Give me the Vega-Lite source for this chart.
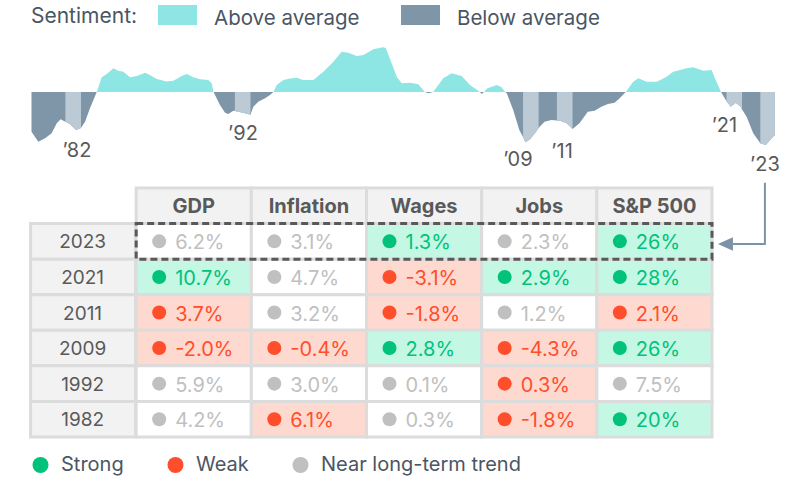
{
  "$schema": "https://vega.github.io/schema/vega-lite/v6.json",
  "width": 798,
  "height": 479,
  "autosize": {"type": "fit", "contains": "padding"},
  "padding": 0,
  "background": "white",
  "config": {
    "view": {"stroke": null},
    "font": "Inter",
    "text": {"font": "Inter"},
    "legend": {"labelFont": "Inter", "titleFont": "Inter"},
    "axis": {"disable": true}
  },
  "datasets": {
    "sentiment": [
      {"year": 1980.0, "value": -24.8},
      {"year": 1980.4, "value": -31.1},
      {"year": 1980.8, "value": -28.9},
      {"year": 1981.19, "value": -25.8},
      {"year": 1981.49, "value": -19.6},
      {"year": 1981.72, "value": -17.1},
      {"year": 1982.0, "value": -18.6, "band": "1982"},
      {"year": 1982.27, "value": -20.0, "band": "1982"},
      {"year": 1982.63, "value": -23.8, "band": "1982"},
      {"year": 1982.92, "value": -22.5, "band": "1982"},
      {"year": 1983.16, "value": -18.6},
      {"year": 1983.45, "value": -10.2},
      {"year": 1983.85, "value": 0},
      {"year": 1984.14, "value": 9.2},
      {"year": 1984.44, "value": 11.25},
      {"year": 1984.83, "value": 14.8},
      {"year": 1985.12, "value": 13.3},
      {"year": 1985.42, "value": 12.7},
      {"year": 1985.81, "value": 9.2},
      {"year": 1986.21, "value": 10.0},
      {"year": 1986.7, "value": 12.1},
      {"year": 1986.99, "value": 10.6},
      {"year": 1987.39, "value": 8.1},
      {"year": 1987.98, "value": 6.5},
      {"year": 1988.37, "value": 7.1},
      {"year": 1988.86, "value": 10.0},
      {"year": 1989.16, "value": 11.25},
      {"year": 1989.55, "value": 9.2},
      {"year": 1989.94, "value": 7.9},
      {"year": 1990.43, "value": 7.5},
      {"year": 1990.63, "value": 5.4},
      {"year": 1990.74, "value": 0},
      {"year": 1991.12, "value": -8.1},
      {"year": 1991.42, "value": -12.9},
      {"year": 1991.61, "value": -13.8},
      {"year": 1991.91, "value": -11.7},
      {"year": 1992.0, "value": -11.9, "band": "1992"},
      {"year": 1992.2, "value": -12.3, "band": "1992"},
      {"year": 1992.6, "value": -13.3, "band": "1992"},
      {"year": 1992.92, "value": -14.2, "band": "1992"},
      {"year": 1993.09, "value": -9.2},
      {"year": 1993.38, "value": -6.1},
      {"year": 1993.78, "value": -3.9},
      {"year": 1994.07, "value": -1.9},
      {"year": 1994.27, "value": 0},
      {"year": 1994.47, "value": 4.4},
      {"year": 1994.86, "value": 7.5},
      {"year": 1995.25, "value": 8.5},
      {"year": 1995.65, "value": 8.9},
      {"year": 1996.04, "value": 7.5},
      {"year": 1996.63, "value": 7.5},
      {"year": 1997.22, "value": 12.7},
      {"year": 1997.81, "value": 18.9},
      {"year": 1998.3, "value": 25.2},
      {"year": 1998.69, "value": 24.6},
      {"year": 1999.19, "value": 22.5},
      {"year": 1999.58, "value": 23.1},
      {"year": 2000.17, "value": 26.7},
      {"year": 2000.73, "value": 27.9},
      {"year": 2000.9, "value": 27.5},
      {"year": 2001.25, "value": 17.9},
      {"year": 2001.55, "value": 9.6},
      {"year": 2001.84, "value": 5.4},
      {"year": 2002.33, "value": 5.8},
      {"year": 2002.82, "value": 4.8},
      {"year": 2003.11, "value": 1.25},
      {"year": 2003.21, "value": 0},
      {"year": 2003.41, "value": -0.8},
      {"year": 2003.7, "value": 0},
      {"year": 2004.29, "value": 8.6},
      {"year": 2004.79, "value": 11.7},
      {"year": 2005.38, "value": 10.0},
      {"year": 2005.87, "value": 4.4},
      {"year": 2006.46, "value": 0},
      {"year": 2006.56, "value": -1.2},
      {"year": 2006.7, "value": 0},
      {"year": 2006.87, "value": 2.2},
      {"year": 2007.45, "value": 4.4},
      {"year": 2007.74, "value": 2.9},
      {"year": 2007.94, "value": 0},
      {"year": 2008.04, "value": -0.8},
      {"year": 2008.42, "value": -11.3},
      {"year": 2008.78, "value": -23.8},
      {"year": 2009.0, "value": -28.2, "band": "2009"},
      {"year": 2009.15, "value": -31.4, "band": "2009"},
      {"year": 2009.41, "value": -29.6, "band": "2009"},
      {"year": 2009.7, "value": -25.8, "band": "2009"},
      {"year": 2009.92, "value": -22.5, "band": "2009"},
      {"year": 2009.98, "value": -21.7},
      {"year": 2010.27, "value": -18.6},
      {"year": 2010.67, "value": -17.5},
      {"year": 2011.0, "value": -17.8, "band": "2011"},
      {"year": 2011.18, "value": -17.9, "band": "2011"},
      {"year": 2011.57, "value": -19.6, "band": "2011"},
      {"year": 2011.92, "value": -23.1, "band": "2011"},
      {"year": 2012.33, "value": -19.6},
      {"year": 2012.82, "value": -12.3},
      {"year": 2013.22, "value": -11.7},
      {"year": 2013.62, "value": -9.2},
      {"year": 2014.01, "value": -7.5},
      {"year": 2014.4, "value": -6.7},
      {"year": 2014.7, "value": -3.9},
      {"year": 2015.06, "value": 0},
      {"year": 2015.5, "value": 6.4},
      {"year": 2015.8, "value": 8.6},
      {"year": 2016.29, "value": 6.4},
      {"year": 2016.89, "value": 6.4},
      {"year": 2017.47, "value": 9.6},
      {"year": 2017.86, "value": 12.7},
      {"year": 2018.65, "value": 14.8},
      {"year": 2019.04, "value": 15.4},
      {"year": 2019.63, "value": 13.3},
      {"year": 2020.13, "value": 13.8},
      {"year": 2020.32, "value": 8.6},
      {"year": 2020.68, "value": 0},
      {"year": 2020.96, "value": -5.0},
      {"year": 2021.0, "value": -5.6, "band": "2021"},
      {"year": 2021.25, "value": -9.2, "band": "2021"},
      {"year": 2021.55, "value": -6.7, "band": "2021"},
      {"year": 2021.84, "value": -9.2, "band": "2021"},
      {"year": 2021.92, "value": -11.0, "band": "2021"},
      {"year": 2022.19, "value": -15.4},
      {"year": 2022.58, "value": -25.8},
      {"year": 2023.0, "value": -32.1, "band": "2023"},
      {"year": 2023.33, "value": -33.1, "band": "2023"},
      {"year": 2023.57, "value": -30.0, "band": "2023"},
      {"year": 2023.86, "value": -26.9, "band": "2023"}
    ],
    "yearLabels": [
      {"year": 1982.68, "value": -36.9, "label": "’82"},
      {"year": 1992.48, "value": -26.25, "label": "’92"},
      {"year": 2008.7, "value": -42.5, "label": "’09"},
      {"year": 2011.3, "value": -37.5, "label": "’11"},
      {"year": 2020.88, "value": -21.25, "label": "’21"},
      {"year": 2023.27, "value": -45.6, "label": "’23"}
    ],
    "arrow": [
      {"year": 2023.27, "value": -56.7, "step": 1},
      {"year": 2023.27, "value": -95, "step": 2},
      {"year": 2021.39, "value": -95, "step": 3}
    ],
    "arrowHead": [
      {"year": 2020.94, "value": -95}
    ],
    "metrics": [
      {"metric": "GDP"}, {"metric": "Inflation"}, {"metric": "Wages"}, {"metric": "Jobs"}, {"metric": "S&P 500"}
    ],
    "rows": [
      {"year": "2023"}, {"year": "2021"}, {"year": "2011"}, {"year": "2009"}, {"year": "1992"}, {"year": "1982"}
    ],
    "cells": [
      {"year": "2023", "metric": "GDP", "value": "6.2%", "status": "Near long-term trend"},
      {"year": "2023", "metric": "Inflation", "value": "3.1%", "status": "Near long-term trend"},
      {"year": "2023", "metric": "Wages", "value": "1.3%", "status": "Strong"},
      {"year": "2023", "metric": "Jobs", "value": "2.3%", "status": "Near long-term trend"},
      {"year": "2023", "metric": "S&P 500", "value": "26%", "status": "Strong"},
      {"year": "2021", "metric": "GDP", "value": "10.7%", "status": "Strong"},
      {"year": "2021", "metric": "Inflation", "value": "4.7%", "status": "Near long-term trend"},
      {"year": "2021", "metric": "Wages", "value": "-3.1%", "status": "Weak"},
      {"year": "2021", "metric": "Jobs", "value": "2.9%", "status": "Strong"},
      {"year": "2021", "metric": "S&P 500", "value": "28%", "status": "Strong"},
      {"year": "2011", "metric": "GDP", "value": "3.7%", "status": "Weak"},
      {"year": "2011", "metric": "Inflation", "value": "3.2%", "status": "Near long-term trend"},
      {"year": "2011", "metric": "Wages", "value": "-1.8%", "status": "Weak"},
      {"year": "2011", "metric": "Jobs", "value": "1.2%", "status": "Near long-term trend"},
      {"year": "2011", "metric": "S&P 500", "value": "2.1%", "status": "Weak"},
      {"year": "2009", "metric": "GDP", "value": "-2.0%", "status": "Weak"},
      {"year": "2009", "metric": "Inflation", "value": "-0.4%", "status": "Weak"},
      {"year": "2009", "metric": "Wages", "value": "2.8%", "status": "Strong"},
      {"year": "2009", "metric": "Jobs", "value": "-4.3%", "status": "Weak"},
      {"year": "2009", "metric": "S&P 500", "value": "26%", "status": "Strong"},
      {"year": "1992", "metric": "GDP", "value": "5.9%", "status": "Near long-term trend"},
      {"year": "1992", "metric": "Inflation", "value": "3.0%", "status": "Near long-term trend"},
      {"year": "1992", "metric": "Wages", "value": "0.1%", "status": "Near long-term trend"},
      {"year": "1992", "metric": "Jobs", "value": "0.3%", "status": "Weak"},
      {"year": "1992", "metric": "S&P 500", "value": "7.5%", "status": "Near long-term trend"},
      {"year": "1982", "metric": "GDP", "value": "4.2%", "status": "Near long-term trend"},
      {"year": "1982", "metric": "Inflation", "value": "6.1%", "status": "Weak"},
      {"year": "1982", "metric": "Wages", "value": "0.3%", "status": "Near long-term trend"},
      {"year": "1982", "metric": "Jobs", "value": "-1.8%", "status": "Weak"},
      {"year": "1982", "metric": "S&P 500", "value": "20%", "status": "Strong"}
    ]
  },
  "layer": [
    {
      "layer": [
        {
          "data": {"name": "sentiment"},
          "transform": [{"filter": "datum.value >= 0"}],
          "mark": {"type": "area", "opacity": 1},
          "encoding": {
            "x": {"field": "year", "type": "quantitative", "scale": {"domain": [1978.142, 2025.222], "nice": false, "zero": false}, "axis": null},
            "y": {"field": "value", "type": "quantitative", "scale": {"domain": [-241.875, 57.5], "nice": false, "zero": false}, "axis": null},
            "y2": {"datum": 0},
            "fill": {
              "datum": "Above average",
              "type": "nominal",
              "scale": {"domain": ["Above average", "Below average"], "range": ["#8ee6e4", "#7f96a9"]},
              "legend": {
                "orient": "none", "legendX": 31, "legendY": 5, "direction": "horizontal",
                "title": "Sentiment:", "titleOrient": "left", "titleFontSize": 21, "titleFontWeight": "normal",
                "titleColor": "#4a5663", "titlePadding": 20, "titleBaseline": "middle",
                "labelFontSize": 20.5, "labelColor": "#4a5663", "labelOffset": 17, "labelBaseline": "alphabetic",
                "labelLimit": 400,
                "symbolType": "M-1,-1H1V0.026H-1Z", "symbolSize": 1521, "symbolStrokeWidth": 0,
                "symbolOpacity": 1, "columnPadding": 41
              }
            }
          }
        },
        {
          "data": {"name": "sentiment"},
          "transform": [{"filter": "datum.value <= 0"}],
          "mark": {"type": "area", "opacity": 1},
          "encoding": {
            "x": {"field": "year", "type": "quantitative"},
            "y": {"field": "value", "type": "quantitative"},
            "y2": {"datum": 0},
            "fill": {"datum": "Below average", "type": "nominal"}
          }
        },
        {
          "data": {"name": "sentiment"},
          "transform": [{"filter": "isValid(datum.band)"}],
          "mark": {"type": "area", "fill": "#bccad5", "opacity": 1},
          "encoding": {
            "x": {"field": "year", "type": "quantitative"},
            "y": {"field": "value", "type": "quantitative"},
            "y2": {"datum": 0},
            "detail": {"field": "band", "type": "nominal"}
          }
        },
        {
          "data": {"name": "yearLabels"},
          "mark": {"type": "text", "fontSize": 20, "fill": "#595959", "align": "center", "baseline": "middle"},
          "encoding": {
            "x": {"field": "year", "type": "quantitative"},
            "y": {"field": "value", "type": "quantitative"},
            "text": {"field": "label"}
          }
        },
        {
          "data": {"name": "arrow"},
          "mark": {"type": "line", "stroke": "#7b92a7", "strokeWidth": 2},
          "encoding": {
            "x": {"field": "year", "type": "quantitative"},
            "y": {"field": "value", "type": "quantitative"},
            "order": {"field": "step"}
          }
        },
        {
          "data": {"name": "arrowHead"},
          "mark": {"type": "point", "shape": "M-1,0L1,-0.9L1,0.9Z", "size": 225, "filled": true, "fill": "#7b92a7", "strokeWidth": 0, "opacity": 1},
          "encoding": {
            "x": {"field": "year", "type": "quantitative"},
            "y": {"field": "value", "type": "quantitative"}
          }
        }
      ]
    },
    {
      "layer": [
        {
          "data": {"name": "metrics"},
          "mark": {"type": "rect", "fill": "#f2f2f2", "stroke": "#dcdcdc", "strokeWidth": 3},
          "encoding": {
            "x": {"field": "metric", "type": "nominal", "scale": {"type": "band", "domain": ["Year", "GDP", "Inflation", "Wages", "Jobs", "S&P 500"], "range": [21, 712], "paddingInner": 0, "paddingOuter": 0}, "axis": null},
            "y": {"datum": "Header", "type": "nominal", "scale": {"type": "band", "domain": ["Header", "2023", "2021", "2011", "2009", "1992", "1982"], "range": [188, 437], "paddingInner": 0, "paddingOuter": 0}, "axis": null}
          }
        },
        {
          "data": {"name": "rows"},
          "mark": {"type": "rect", "fill": "#f2f2f2", "stroke": "#dcdcdc", "strokeWidth": 3, "width": 105, "xOffset": 4.5},
          "encoding": {
            "x": {"datum": "Year", "type": "nominal"},
            "y": {"field": "year", "type": "nominal"}
          }
        },
        {
          "data": {"name": "cells"},
          "mark": {"type": "rect", "stroke": "#dcdcdc", "strokeWidth": 3},
          "encoding": {
            "x": {"field": "metric", "type": "nominal"},
            "y": {"field": "year", "type": "nominal"},
            "fill": {"field": "status", "type": "nominal", "scale": {"range": ["#ffffff", "#c4f8e4", "#fed9d0"]}, "legend": null}
          }
        },
        {
          "data": {"values": [{}]},
          "mark": {"type": "rect", "fill": null, "fillOpacity": 0, "stroke": "#595959", "strokeWidth": 3, "strokeDash": [7, 4]},
          "encoding": {
            "x": {"datum": "GDP", "type": "nominal", "bandPosition": 0},
            "x2": {"datum": "S&P 500", "bandPosition": 1},
            "y": {"datum": "2023", "type": "nominal", "bandPosition": 0},
            "y2": {"datum": "2023", "bandPosition": 1}
          }
        },
        {
          "data": {"name": "cells"},
          "mark": {"type": "point", "filled": true, "size": 196, "opacity": 1, "xOffset": 23},
          "encoding": {
            "x": {"field": "metric", "type": "nominal", "bandPosition": 0},
            "y": {"field": "year", "type": "nominal"},
            "color": {
              "field": "status", "type": "nominal",
              "scale": {"domain": ["Strong", "Weak", "Near long-term trend"], "range": ["#00c27a", "#ff4e2c", "#c0c0c0"]},
              "legend": {
                "orient": "none", "legendX": 30.5, "legendY": 455, "direction": "horizontal", "title": null,
                "labelFontSize": 20, "labelColor": "#4a5663", "labelOffset": 10.5, "labelLimit": 400,
                "symbolType": "circle", "symbolSize": 256, "symbolStrokeWidth": 0, "symbolOpacity": 1,
                "columnPadding": 41
              }
            }
          }
        },
        {
          "data": {"name": "cells"},
          "mark": {"type": "text", "fontSize": 20, "align": "left", "baseline": "middle", "dx": 39, "dy": 2},
          "encoding": {
            "x": {"field": "metric", "type": "nominal", "bandPosition": 0},
            "y": {"field": "year", "type": "nominal"},
            "text": {"field": "value"},
            "color": {"field": "status", "type": "nominal"}
          }
        },
        {
          "data": {"name": "metrics"},
          "mark": {"type": "text", "fontSize": 20, "fontWeight": "bold", "fill": "#595959", "align": "center", "baseline": "middle", "dy": 1},
          "encoding": {
            "x": {"field": "metric", "type": "nominal"},
            "y": {"datum": "Header", "type": "nominal"},
            "text": {"field": "metric"}
          }
        },
        {
          "data": {"name": "rows"},
          "mark": {"type": "text", "fontSize": 19, "fill": "#595959", "align": "center", "baseline": "middle", "dx": 4, "dy": 1},
          "encoding": {
            "x": {"datum": "Year", "type": "nominal"},
            "y": {"field": "year", "type": "nominal"},
            "text": {"field": "year"}
          }
        }
      ]
    }
  ],
  "resolve": {
    "scale": {"x": "independent", "y": "independent", "color": "independent", "fill": "independent"},
    "legend": {"color": "independent", "fill": "independent"}
  }
}
